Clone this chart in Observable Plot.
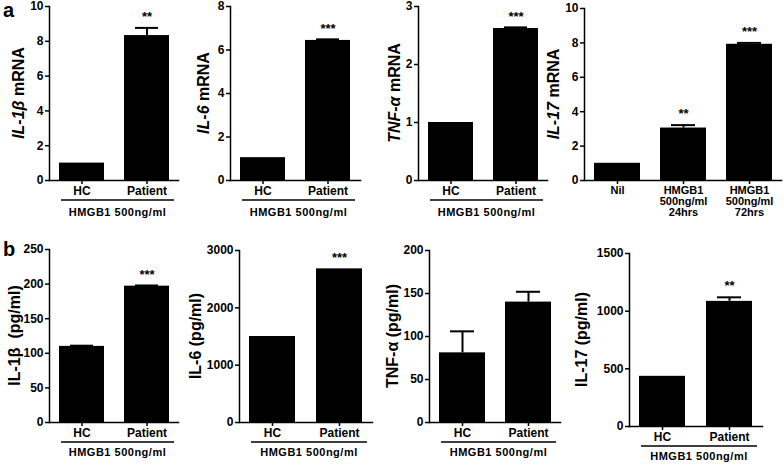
<!DOCTYPE html>
<html><head><meta charset="utf-8">
<script src="https://cdn.jsdelivr.net/npm/d3@7"></script>
<script src="https://cdn.jsdelivr.net/npm/@observablehq/plot@0.6"></script>
<style>
body{margin:0;background:#fff;}
#fig{position:relative;width:784px;height:465px;font-family:"Liberation Sans",Arial,sans-serif;overflow:hidden;}
#fig svg{position:absolute;overflow:visible;}
.plabel{position:absolute;font-weight:bold;font-size:20px;line-height:1;font-family:"Liberation Sans",Arial,sans-serif;}
</style></head><body><div id="fig"><div class="plabel" style="left:3px;top:0px">a</div><div class="plabel" style="left:3px;top:239px">b</div></div>
<script>
// ---------- DATA ----------
const catsHC = ["HC", "Patient"];
const catsTime = ["Nil", "HMGB1\n500ng/ml\n24hrs", "HMGB1\n500ng/ml\n72hrs"];
const treatmentLabel = "HMGB1 500ng/ml";

// row a: mRNA (fold)
const il1bMrna = [1.0, 8.33];   const il1bMrnaErr = [0, 0.44];  const il1bMrnaSig = ["", "**"];
const il6Mrna  = [1.05, 6.44];  const il6MrnaErr  = [0, 0.05];  const il6MrnaSig  = ["", "***"];
const tnfMrna  = [1.0, 2.62];   const tnfMrnaErr  = [0, 0.02];  const tnfMrnaSig  = ["", "***"];
const il17Mrna = [1.0, 3.05, 7.92]; const il17MrnaErr = [0, 0.17, 0.08]; const il17MrnaSig = ["", "**", "***"];

// row b: protein (pg/ml)
const il1bProt = [110, 197];    const il1bProtErr = [1, 1];     const il1bProtSig = ["", "***"];
const il6Prot  = [1500, 2680];  const il6ProtErr  = [0, 0];     const il6ProtSig  = ["", "***"];
const tnfProt  = [81, 140];     const tnfProtErr  = [25, 12];   const tnfProtSig  = ["", ""];
const il17Prot = [435, 1085];   const il17ProtErr = [0, 35];    const il17ProtSig = ["", "**"];

// y-axis tick values
const ticksIl1bMrna = [0, 2, 4, 6, 8, 10];
const ticksIl6Mrna  = [0, 2, 4, 6, 8];
const ticksTnfMrna  = [0, 1, 2, 3];
const ticksIl17Mrna = [0, 2, 4, 6, 8, 10];
const ticksIl1bProt = [0, 50, 100, 150, 200, 250];
const ticksIl6Prot  = [0, 1000, 2000, 3000];
const ticksTnfProt  = [0, 50, 100, 150, 200];
const ticksIl17Prot = [0, 500, 1000, 1500];

// axis titles: [text, italic]
const titleIl1bMrna = [["IL-1β", true], [" mRNA", false]];
const titleIl6Mrna  = [["IL-6", true], [" mRNA", false]];
const titleTnfMrna  = [["TNF-α", true], [" mRNA", false]];
const titleIl17Mrna = [["IL-17", true], [" mRNA", false]];
const titleIl1bProt = [["IL-1β  (pg/ml)", false]];
const titleIl6Prot  = [["IL-6 (pg/ml)", false]];
const titleTnfProt  = [["TNF-α (pg/ml)", false]];
const titleIl17Prot = [["IL-17 (pg/ml)", false]];

// ---------- LAYOUT ----------
const FONT = '"Liberation Sans", Arial, sans-serif';
const panels = [
  {L:0,   T:0,   W:190, H:230, ml:49, mr:12, mt:6,  mb:50, tx:18,  cats:catsHC,   v:il1bMrna, e:il1bMrnaErr, s:il1bMrnaSig, ticks:ticksIl1bMrna, title:titleIl1bMrna, under:true, uy:20, ly:32},
  {L:190, T:0,   W:190, H:230, ml:40, mr:20, mt:6,  mb:50, tx:203, cats:catsHC,   v:il6Mrna,  e:il6MrnaErr,  s:il6MrnaSig,  ticks:ticksIl6Mrna,  title:titleIl6Mrna,  under:true, uy:20, ly:32},
  {L:380, T:0,   W:180, H:230, ml:38, mr:13, mt:6,  mb:50, tx:394, cats:catsHC,   v:tnfMrna,  e:tnfMrnaErr,  s:tnfMrnaSig,  ticks:ticksTnfMrna,  title:titleTnfMrna,  under:true, uy:20, ly:32},
  {L:540, T:0,   W:244, H:230, ml:44, mr:3,  mt:8,  mb:50, tx:553, cats:catsTime, v:il17Mrna, e:il17MrnaErr, s:il17MrnaSig, ticks:ticksIl17Mrna, title:titleIl17Mrna, under:false},
  {L:0,   T:230, W:190, H:235, ml:49, mr:12, mt:19, mb:43, tx:14,  cats:catsHC,   v:il1bProt, e:il1bProtErr, s:il1bProtSig, ticks:ticksIl1bProt, title:titleIl1bProt, under:true, uy:20, ly:30},
  {L:190, T:230, W:190, H:235, ml:49, mr:8,  mt:20, mb:43, tx:195, cats:catsHC,   v:il6Prot,  e:il6ProtErr,  s:il6ProtSig,  ticks:ticksIl6Prot,  title:titleIl6Prot,  under:true, uy:20, ly:30},
  {L:380, T:230, W:190, H:235, ml:49, mr:10, mt:20, mb:43, tx:392, cats:catsHC,   v:tnfProt,  e:tnfProtErr,  s:tnfProtSig,  ticks:ticksTnfProt,  title:titleTnfProt,  under:true, uy:20, ly:30},
  {L:570, T:230, W:214, H:235, ml:59, mr:22, mt:23, mb:39, tx:581, cats:catsHC,   v:il17Prot, e:il17ProtErr, s:il17ProtSig, ticks:ticksIl17Prot, title:titleIl17Prot, under:true, uy:20, ly:30}
];

const fig = document.getElementById("fig");

for (const p of panels) {
  const data = p.cats.map((c, i) => ({cat: c, v: p.v[i], e: p.e[i], s: p.s[i]}));
  const withErr = data.filter(d => d.e > 0);
  const ymax = p.ticks[p.ticks.length - 1];
  const multi = p.cats.length > 2;
  const svg = Plot.plot({
    width: p.W, height: p.H,
    marginLeft: p.ml, marginRight: p.mr, marginTop: p.mt, marginBottom: p.mb,
    style: {background: "transparent", fontFamily: FONT, fontSize: "12px", fontWeight: "bold", color: "black"},
    x: {type: "band", domain: p.cats, paddingInner: 0.31, paddingOuter: 0.14},
    y: {domain: [0, ymax]},
    marks: [
      Plot.barY(data, {x: "cat", y: "v", fill: "black"}),
      Plot.ruleX(withErr, {x: "cat", y1: "v", y2: d => d.v + d.e, stroke: "black", strokeWidth: 2}),
      Plot.tickY(withErr, {x: "cat", y: d => d.v + d.e, stroke: "black", strokeWidth: 2, insetLeft: 11, insetRight: 11}),
      Plot.text(data, {x: "cat", y: d => d.v + d.e, text: "s", dy: -11, fontSize: 13, fontWeight: "bold", fill: "black"}),
      Plot.axisY({ticks: p.ticks, tickSize: 4, tickPadding: 2, tickFormat: d3.format("d"), label: null, strokeWidth: 1.5, fontSize: 12, fontWeight: "bold"}),
      Plot.axisX({tickSize: 4, tickPadding: 2, label: null, strokeWidth: 1.5, fontSize: multi ? 11 : 12, fontWeight: "bold", lineHeight: 1}),
      Plot.frame({anchor: "left", strokeWidth: 1.5}),
      Plot.frame({anchor: "bottom", strokeWidth: 1.5})
    ]
  });
  svg.style.left = p.L + "px";
  svg.style.top = p.T + "px";
  fig.appendChild(svg);

  const sel = d3.select(svg);
  // y-axis title
  const cy = (p.mt + p.H - p.mb) / 2;
  const t = sel.append("text")
    .attr("transform", `translate(${p.tx - p.L},${cy}) rotate(-90)`)
    .attr("text-anchor", "middle").attr("dy", "0.35em")
    .attr("font-size", 16).attr("font-weight", "bold").attr("font-family", FONT).attr("fill", "black");
  for (const [s, it] of p.title) t.append("tspan").attr("font-style", it ? "italic" : "normal").text(s);

  // treatment underline + label
  if (p.under) {
    const xs = svg.scale("x");
    const ys = svg.scale("y");
    const y0 = ys.apply(0);
    const x1 = xs.apply(p.cats[0]) + 2;
    const x2 = xs.apply(p.cats[p.cats.length - 1]) + xs.bandwidth + 5;
    sel.append("line").attr("x1", x1).attr("x2", x2).attr("y1", y0 + p.uy).attr("y2", y0 + p.uy)
      .attr("stroke", "black").attr("stroke-width", 1.5);
    sel.append("text").attr("x", (x1 + x2) / 2).attr("y", y0 + p.ly).attr("dy", "0.35em")
      .attr("text-anchor", "middle").attr("font-size", 11).attr("font-weight", "bold")
      .attr("letter-spacing", "0.5px").attr("font-family", FONT).attr("fill", "black")
      .text(treatmentLabel);
  }
}
</script></body></html>
